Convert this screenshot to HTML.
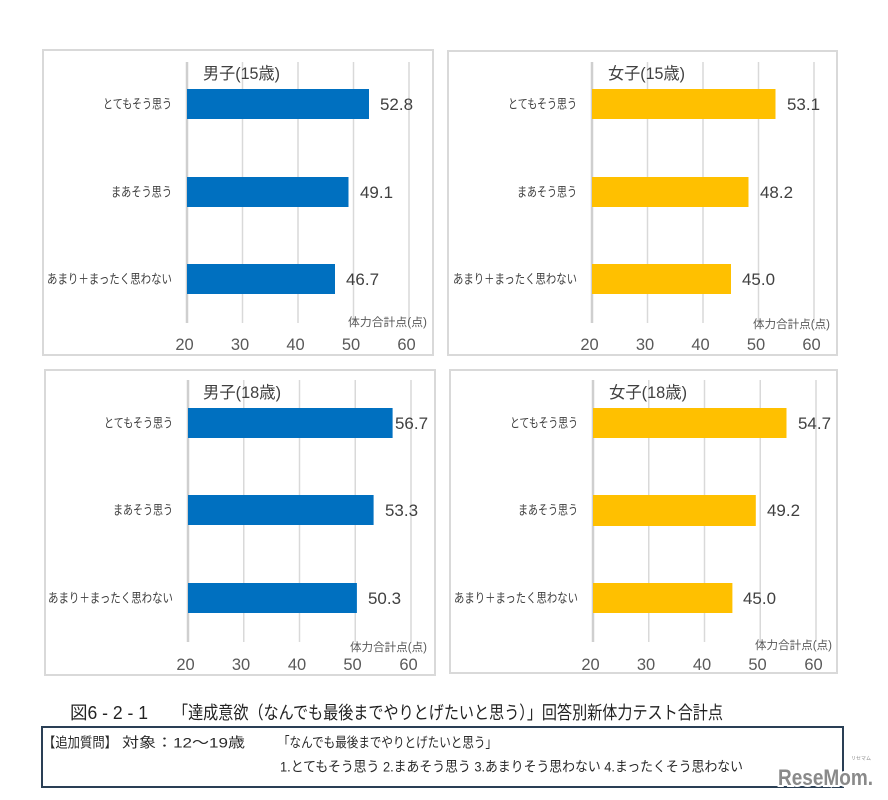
<!DOCTYPE html>
<html><head><meta charset="utf-8"><style>
html,body{margin:0;padding:0;background:#fff;}
svg{display:block;}
text{font-family:"Liberation Sans","Noto Sans CJK JP",sans-serif;}
</style></head><body>
<svg width="888" height="800" viewBox="0 0 888 800" xmlns="http://www.w3.org/2000/svg">
<rect width="888" height="800" fill="#fff"/>

<!-- Panel 1 -->
<rect x="43" y="50" width="390" height="305" fill="#fff" stroke="#d9d9d9" stroke-width="2"/>
<g stroke="#d9d9d9" stroke-width="1.5">
<line x1="242.5" y1="62" x2="242.5" y2="323"/><line x1="298" y1="62" x2="298" y2="323"/><line x1="353.5" y1="62" x2="353.5" y2="323"/><line x1="409" y1="62" x2="409" y2="323"/>
</g>
<line x1="187" y1="62" x2="187" y2="323" stroke="#cfcfcf" stroke-width="2.5"/>
<g fill="#0070c0"><rect x="187" y="89" width="182" height="30"/><rect x="187" y="177" width="161.5" height="30"/><rect x="187" y="264" width="148" height="30"/></g>
<text x="203" y="79" font-size="16.5" fill="#404040" textLength="77" lengthAdjust="spacingAndGlyphs">男子(15歳)</text>
<g font-size="13" fill="#404040" text-anchor="end">
<text x="172" y="108.5" textLength="69" lengthAdjust="spacingAndGlyphs">とてもそう思う</text>
<text x="172" y="196.5" textLength="61" lengthAdjust="spacingAndGlyphs">まあそう思う</text>
<text x="172" y="283.5" textLength="125" lengthAdjust="spacingAndGlyphs">あまり＋まったく思わない</text>
</g>
<g font-size="17" fill="#404040">
<text x="380" y="110" textLength="33" lengthAdjust="spacingAndGlyphs">52.8</text>
<text x="360" y="198" textLength="33" lengthAdjust="spacingAndGlyphs">49.1</text>
<text x="346" y="285" textLength="33" lengthAdjust="spacingAndGlyphs">46.7</text>
</g>
<text x="348" y="326" font-size="11.5" fill="#595959" textLength="79" lengthAdjust="spacingAndGlyphs">体力合計点(点)</text>
<g font-size="16.5" fill="#595959" text-anchor="middle">
<text x="184.5" y="350">20</text><text x="240" y="350">30</text><text x="295.5" y="350">40</text><text x="351" y="350">50</text><text x="406.5" y="350">60</text>
</g>

<!-- Panel 2 -->
<rect x="448" y="51" width="389" height="304" fill="#fff" stroke="#d9d9d9" stroke-width="2"/>
<g stroke="#d9d9d9" stroke-width="1.5">
<line x1="647.5" y1="62" x2="647.5" y2="323"/><line x1="703" y1="62" x2="703" y2="323"/><line x1="758.5" y1="62" x2="758.5" y2="323"/><line x1="814" y1="62" x2="814" y2="323"/>
</g>
<line x1="592" y1="62" x2="592" y2="323" stroke="#cfcfcf" stroke-width="2.5"/>
<g fill="#ffc000"><rect x="592" y="89" width="183.5" height="30"/><rect x="592" y="177" width="156.5" height="30"/><rect x="592" y="264" width="139" height="30"/></g>
<text x="608" y="79" font-size="16.5" fill="#404040" textLength="77" lengthAdjust="spacingAndGlyphs">女子(15歳)</text>
<g font-size="13" fill="#404040" text-anchor="end">
<text x="577" y="108.5" textLength="69" lengthAdjust="spacingAndGlyphs">とてもそう思う</text>
<text x="577" y="196.5" textLength="60" lengthAdjust="spacingAndGlyphs">まあそう思う</text>
<text x="577" y="283.5" textLength="124" lengthAdjust="spacingAndGlyphs">あまり＋まったく思わない</text>
</g>
<g font-size="17" fill="#404040">
<text x="787" y="110" textLength="33" lengthAdjust="spacingAndGlyphs">53.1</text>
<text x="760" y="198" textLength="33" lengthAdjust="spacingAndGlyphs">48.2</text>
<text x="742" y="285" textLength="33" lengthAdjust="spacingAndGlyphs">45.0</text>
</g>
<text x="753" y="328" font-size="11.5" fill="#595959" textLength="77" lengthAdjust="spacingAndGlyphs">体力合計点(点)</text>
<g font-size="16.5" fill="#595959" text-anchor="middle">
<text x="589.5" y="350">20</text><text x="645" y="350">30</text><text x="700.5" y="350">40</text><text x="756" y="350">50</text><text x="811.5" y="350">60</text>
</g>

<!-- Panel 3 -->
<rect x="45" y="370" width="390" height="305" fill="#fff" stroke="#d9d9d9" stroke-width="2"/>
<g stroke="#d9d9d9" stroke-width="1.5">
<line x1="243.75" y1="380" x2="243.75" y2="642"/><line x1="299.5" y1="380" x2="299.5" y2="642"/><line x1="355.25" y1="380" x2="355.25" y2="642"/><line x1="411" y1="380" x2="411" y2="642"/>
</g>
<line x1="188" y1="380" x2="188" y2="642" stroke="#cfcfcf" stroke-width="2.5"/>
<g fill="#0070c0"><rect x="188" y="408" width="204.6" height="30"/><rect x="188" y="495" width="185.6" height="30"/><rect x="188" y="583" width="168.9" height="30"/></g>
<text x="203" y="398" font-size="16.5" fill="#404040" textLength="78" lengthAdjust="spacingAndGlyphs">男子(18歳)</text>
<g font-size="13" fill="#404040" text-anchor="end">
<text x="173" y="427.5" textLength="69" lengthAdjust="spacingAndGlyphs">とてもそう思う</text>
<text x="173" y="514.5" textLength="60" lengthAdjust="spacingAndGlyphs">まあそう思う</text>
<text x="173" y="602.5" textLength="125" lengthAdjust="spacingAndGlyphs">あまり＋まったく思わない</text>
</g>
<g font-size="17" fill="#404040">
<text x="395" y="429" textLength="33" lengthAdjust="spacingAndGlyphs">56.7</text>
<text x="385" y="516" textLength="33" lengthAdjust="spacingAndGlyphs">53.3</text>
<text x="368" y="604" textLength="33" lengthAdjust="spacingAndGlyphs">50.3</text>
</g>
<text x="350" y="651" font-size="11.5" fill="#595959" textLength="77" lengthAdjust="spacingAndGlyphs">体力合計点(点)</text>
<g font-size="16.5" fill="#595959" text-anchor="middle">
<text x="185.5" y="670">20</text><text x="241" y="670">30</text><text x="297" y="670">40</text><text x="352.5" y="670">50</text><text x="408.5" y="670">60</text>
</g>

<!-- Panel 4 -->
<rect x="450" y="370" width="387" height="303" fill="#fff" stroke="#d9d9d9" stroke-width="2"/>
<g stroke="#d9d9d9" stroke-width="1.5">
<line x1="648.75" y1="380" x2="648.75" y2="642"/><line x1="704.5" y1="380" x2="704.5" y2="642"/><line x1="760.25" y1="380" x2="760.25" y2="642"/><line x1="816" y1="380" x2="816" y2="642"/>
</g>
<line x1="593" y1="380" x2="593" y2="642" stroke="#cfcfcf" stroke-width="2.5"/>
<g fill="#ffc000"><rect x="593" y="408" width="193.5" height="30"/><rect x="593" y="495" width="162.8" height="31"/><rect x="593" y="583" width="139.4" height="30"/></g>
<text x="609" y="398" font-size="16.5" fill="#404040" textLength="78" lengthAdjust="spacingAndGlyphs">女子(18歳)</text>
<g font-size="13" fill="#404040" text-anchor="end">
<text x="578" y="427.5" textLength="68" lengthAdjust="spacingAndGlyphs">とてもそう思う</text>
<text x="578" y="514.5" textLength="60" lengthAdjust="spacingAndGlyphs">まあそう思う</text>
<text x="578" y="602.5" textLength="124" lengthAdjust="spacingAndGlyphs">あまり＋まったく思わない</text>
</g>
<g font-size="17" fill="#404040">
<text x="798" y="429" textLength="33" lengthAdjust="spacingAndGlyphs">54.7</text>
<text x="767" y="516" textLength="33" lengthAdjust="spacingAndGlyphs">49.2</text>
<text x="743" y="604" textLength="33" lengthAdjust="spacingAndGlyphs">45.0</text>
</g>
<text x="755" y="649" font-size="11.5" fill="#595959" textLength="77" lengthAdjust="spacingAndGlyphs">体力合計点(点)</text>
<g font-size="16.5" fill="#595959" text-anchor="middle">
<text x="590.5" y="670">20</text><text x="646" y="670">30</text><text x="702" y="670">40</text><text x="757.5" y="670">50</text><text x="813.5" y="670">60</text>
</g>

<!-- Caption -->
<g font-size="18" fill="#222">
<text x="70" y="719" textLength="78" lengthAdjust="spacingAndGlyphs">図6 - 2 - 1</text>
<text x="173" y="719" textLength="550" lengthAdjust="spacingAndGlyphs">「達成意欲（なんでも最後までやりとげたいと思う）」回答別新体力テスト合計点</text>
</g>

<!-- Box -->
<rect x="42" y="727" width="801" height="60" fill="none" stroke="#2a3f55" stroke-width="2"/>
<g font-size="14" fill="#2a2a2a">
<text x="43" y="747.5" textLength="74" lengthAdjust="spacingAndGlyphs">【追加質問】</text>
<text x="122" y="747.5" textLength="123" lengthAdjust="spacingAndGlyphs">対象：12～19歳</text>
<text x="278" y="747.5" textLength="219" lengthAdjust="spacingAndGlyphs">「なんでも最後までやりとげたいと思う」</text>
<text x="280" y="771.5" textLength="463" lengthAdjust="spacingAndGlyphs">1.とてもそう思う 2.まあそう思う 3.あまりそう思わない 4.まったくそう思わない</text>
</g>

<!-- Logo -->
<text x="778" y="785" font-size="22" font-weight="bold" fill="#8a8a8a" stroke="#fff" stroke-width="4" paint-order="stroke" textLength="95" lengthAdjust="spacingAndGlyphs">ReseMom.</text>
<text x="851" y="760" font-size="5" fill="#8a8a8a">リセマム</text>
</svg>
</body></html>
